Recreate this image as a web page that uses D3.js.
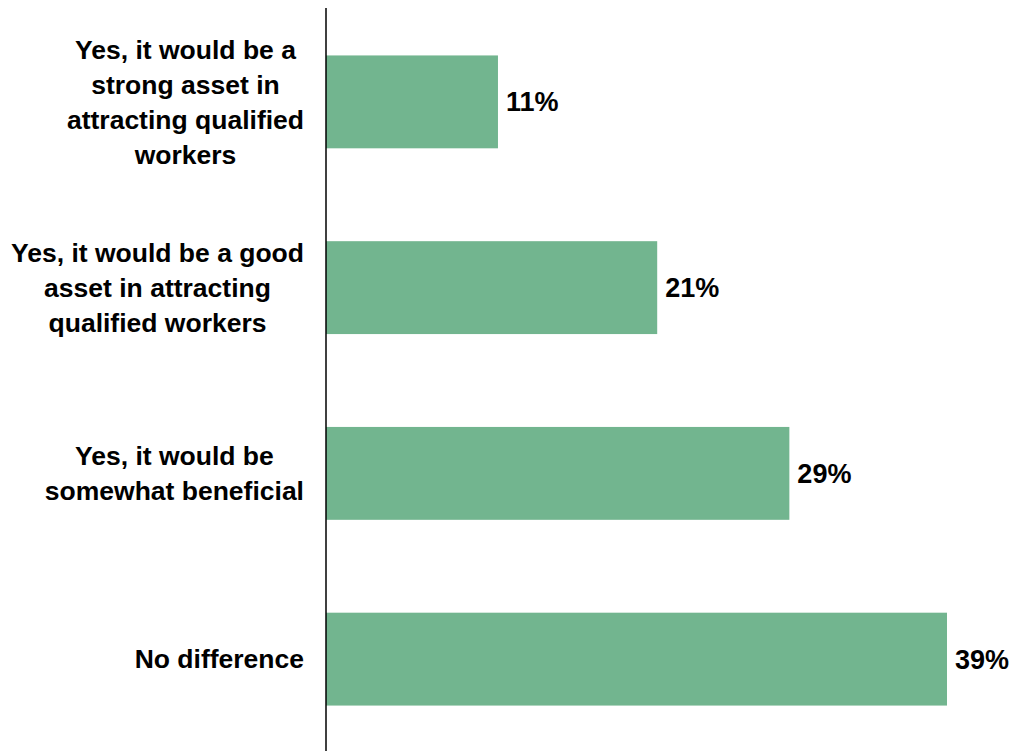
<!DOCTYPE html>
<html>
<head>
<script src="https://d3js.org/d3.v7.min.js"></script>
<style>
  body { margin: 0; background: #fff; }
  text { font-family: "Liberation Sans", Arial, sans-serif; font-weight: bold; fill: #000; }
</style>
</head>
<body>
<script>
// answers, one entry per bar (label lines split by "|")
var categories = [
    "Yes, it would be a|strong asset in|attracting qualified|workers",
    "Yes, it would be a good|asset in attracting|qualified workers",
    "Yes, it would be|somewhat beneficial",
    "No difference"
];
var values = [10.8, 20.8, 29.1, 39.0];
var valueLabels = ["11%", "21%", "29%", "39%"];

var width = 1012, height = 751;
var axisX = 326;

var svg = d3.select("body").append("svg")
    .attr("width", width)
    .attr("height", height);

var x = d3.scaleLinear().domain([0, 39]).range([axisX, 947]);
var y = d3.scaleBand().domain(d3.range(categories.length))
    .range([9, 752]).paddingInner(0.5).paddingOuter(0.25);

// bars
svg.selectAll("rect.bar")
    .data(values)
    .enter()
    .append("rect")
    .attr("class", "bar")
    .attr("x", x(0))
    .attr("y", function(d, i) { return y(i); })
    .attr("width", function(d) { return x(d) - x(0); })
    .attr("height", y.bandwidth())
    .style("fill", "#72b58f");

// value labels
svg.selectAll("text.val")
    .data(values)
    .enter()
    .append("text")
    .attr("class", "val")
    .attr("x", function(d) { return x(d) + 8; })
    .attr("y", function(d, i) { return y(i) + y.bandwidth() / 2; })
    .attr("dy", "0.35em")
    .style("font-size", "27px")
    .text(function(d, i) { return valueLabels[i]; });

// category labels: lines centred in a block whose right edge sits next to the axis
var lineH = 35;
var labelRight = 304;
categories.forEach(function(c, i) {
    var lines = c.split("|");
    var g = svg.append("g");
    var cy = y(i) + y.bandwidth() / 2;
    var texts = lines.map(function(l, k) {
        return g.append("text")
            .attr("y", cy + (k - (lines.length - 1) / 2) * lineH)
            .attr("dy", "0.35em")
            .attr("text-anchor", "middle")
            .style("font-size", "26.5px")
            .text(l);
    });
    var maxW = d3.max(texts, function(t) { return t.node().getComputedTextLength(); });
    texts.forEach(function(t) { t.attr("x", labelRight - maxW / 2); });
});

// vertical axis line
svg.append("line")
    .attr("x1", axisX).attr("x2", axisX)
    .attr("y1", 8).attr("y2", height)
    .style("stroke", "#000")
    .style("stroke-width", 1.5);
</script>
</body>
</html>
